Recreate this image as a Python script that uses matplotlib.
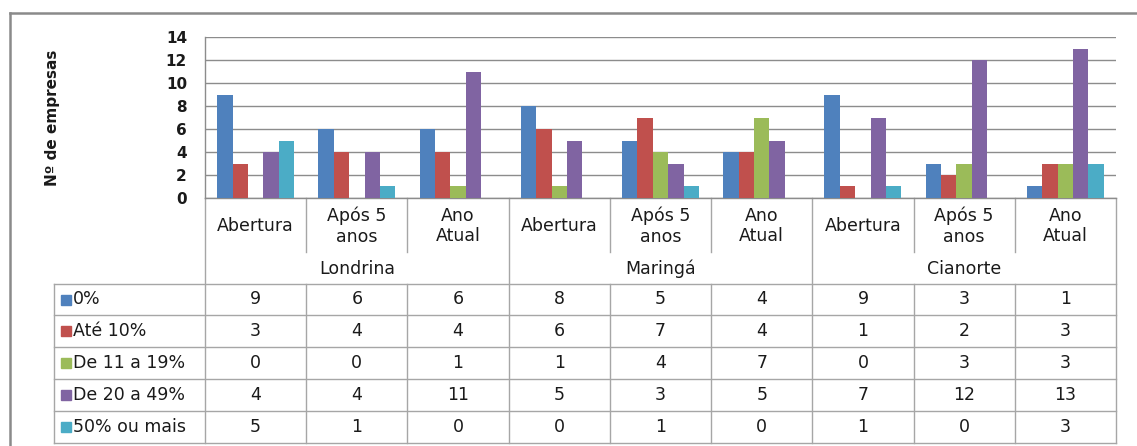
import numpy as np
import matplotlib
matplotlib.use("Agg")
import matplotlib.pyplot as plt
from matplotlib.patches import Rectangle

plt.rcParams['font.family'] = ['DejaVu Sans']

# ---------------- data ----------------
cities = ["Londrina", "Maringá", "Cianorte"]
periods = ["Abertura", "Após 5\nanos", "Ano\nAtual"]
series_names = ["0%", "Até 10%", "De 11 a 19%", "De 20 a 49%", "50% ou mais"]
s_0 = [9, 6, 6, 8, 5, 4, 9, 3, 1]
s_ate10 = [3, 4, 4, 6, 7, 4, 1, 2, 3]
s_11_19 = [0, 0, 1, 1, 4, 7, 0, 3, 3]
s_20_49 = [4, 4, 11, 5, 3, 5, 7, 12, 13]
s_50 = [5, 1, 0, 0, 1, 0, 1, 0, 3]
series_values = [s_0, s_ate10, s_11_19, s_20_49, s_50]
colors = ["#4F81BD", "#C0504D", "#9BBB59", "#8064A2", "#4BACC6"]
yticks = [0, 2, 4, 6, 8, 10, 12, 14]
ylabel = "Nº de empresas"

# ---------------- layout (pixels) ----------------
W, H = 1137, 446
PL, PR, PT, PB = 205, 1116, 37, 198
TL = 54
row_tops = [284, 315, 347, 379, 411, 443]
inner_div_bottom = 252
city_label_y = 269
cat_label_y = 226

def fx(p):
    return p / W

def fy(p):
    return 1 - p / H

fig = plt.figure(figsize=(W / 100, H / 100), dpi=100)
fig.patch.set_facecolor("white")

# overlay axes in pixel coordinates for frame and data table
ov = fig.add_axes([0, 0, 1, 1])
ov.set_xlim(0, W)
ov.set_ylim(H, 0)
ov.axis("off")

ax = fig.add_axes([fx(PL), fy(PB), fx(PR) - fx(PL), fy(PT) - fy(PB)])
ax.set_facecolor("none")

n_cat = len(s_0)
n_ser = len(series_values)
x = np.arange(n_cat)
bw = 0.152
for k, (vals, col) in enumerate(zip(series_values, colors)):
    ax.bar(x + (k - (n_ser - 1) / 2) * bw, vals, bw, color=col, zorder=3)

ax.set_xlim(-0.5, n_cat - 0.5)
ax.set_ylim(0, 14)
ax.set_yticks(yticks)
ax.set_yticklabels([str(t) for t in yticks], fontsize=11, fontweight="bold",
                   color="#1a1a1a")
ax.set_xticks([])
ax.yaxis.grid(True, color="#8c8c8c", linewidth=1.0, zorder=0)
ax.tick_params(axis="y", length=0, pad=13)
for s in ["top", "right"]:
    ax.spines[s].set_visible(False)
for s in ["left", "bottom"]:
    ax.spines[s].set_color("#8c8c8c")
    ax.spines[s].set_linewidth(1.0)
ax.set_ylabel(ylabel, fontsize=11, fontweight="bold", labelpad=0,
              color="#1a1a1a")
ax.yaxis.set_label_coords((60 - PL) / (PR - PL), 0.5)

# ---------------- outer frame ----------------
fc = "#8a8a8a"
ov.plot([10, W], [13, 13], color=fc, lw=1.8)
ov.plot([10, 10], [13, H], color=fc, lw=1.8)

# ---------------- category area & table ----------------
lc = "#a6a6a6"
cw = (PR - PL) / n_cat
for i in range(n_cat + 1):
    xx = PL + i * cw
    if i % 3 == 0:
        ov.plot([xx, xx], [PB, row_tops[-1]], color=lc, lw=1.0)
    else:
        ov.plot([xx, xx], [PB, inner_div_bottom], color=lc, lw=1.0)
        ov.plot([xx, xx], [row_tops[0], row_tops[-1]], color=lc, lw=1.0)
for yy in row_tops:
    ov.plot([TL, PR], [yy, yy], color=lc, lw=1.0)
ov.plot([TL, TL], [row_tops[0], row_tops[-1]], color=lc, lw=1.0)

fs = 12.5
for i in range(n_cat):
    cx = PL + (i + 0.5) * cw
    ov.text(cx, cat_label_y, periods[i % 3], ha="center", va="center",
            fontsize=fs, linespacing=1.2, color="#1a1a1a")
for c, name in enumerate(cities):
    cx = PL + (3 * c + 1.5) * cw
    ov.text(cx, city_label_y, name, ha="center", va="center", fontsize=fs,
            color="#1a1a1a")

for r, (name, vals, col) in enumerate(zip(series_names, series_values, colors)):
    cy = (row_tops[r] + row_tops[r + 1]) / 2
    ov.add_patch(Rectangle((61, cy - 5), 10, 10, color=col))
    ov.text(73, cy, name, ha="left", va="center", fontsize=fs, color="#1a1a1a")
    for i, v in enumerate(vals):
        cx = PL + (i + 0.5) * cw
        ov.text(cx, cy, str(v), ha="center", va="center", fontsize=fs,
                color="#1a1a1a")

fig.savefig("out.png", dpi=100, facecolor="white")
